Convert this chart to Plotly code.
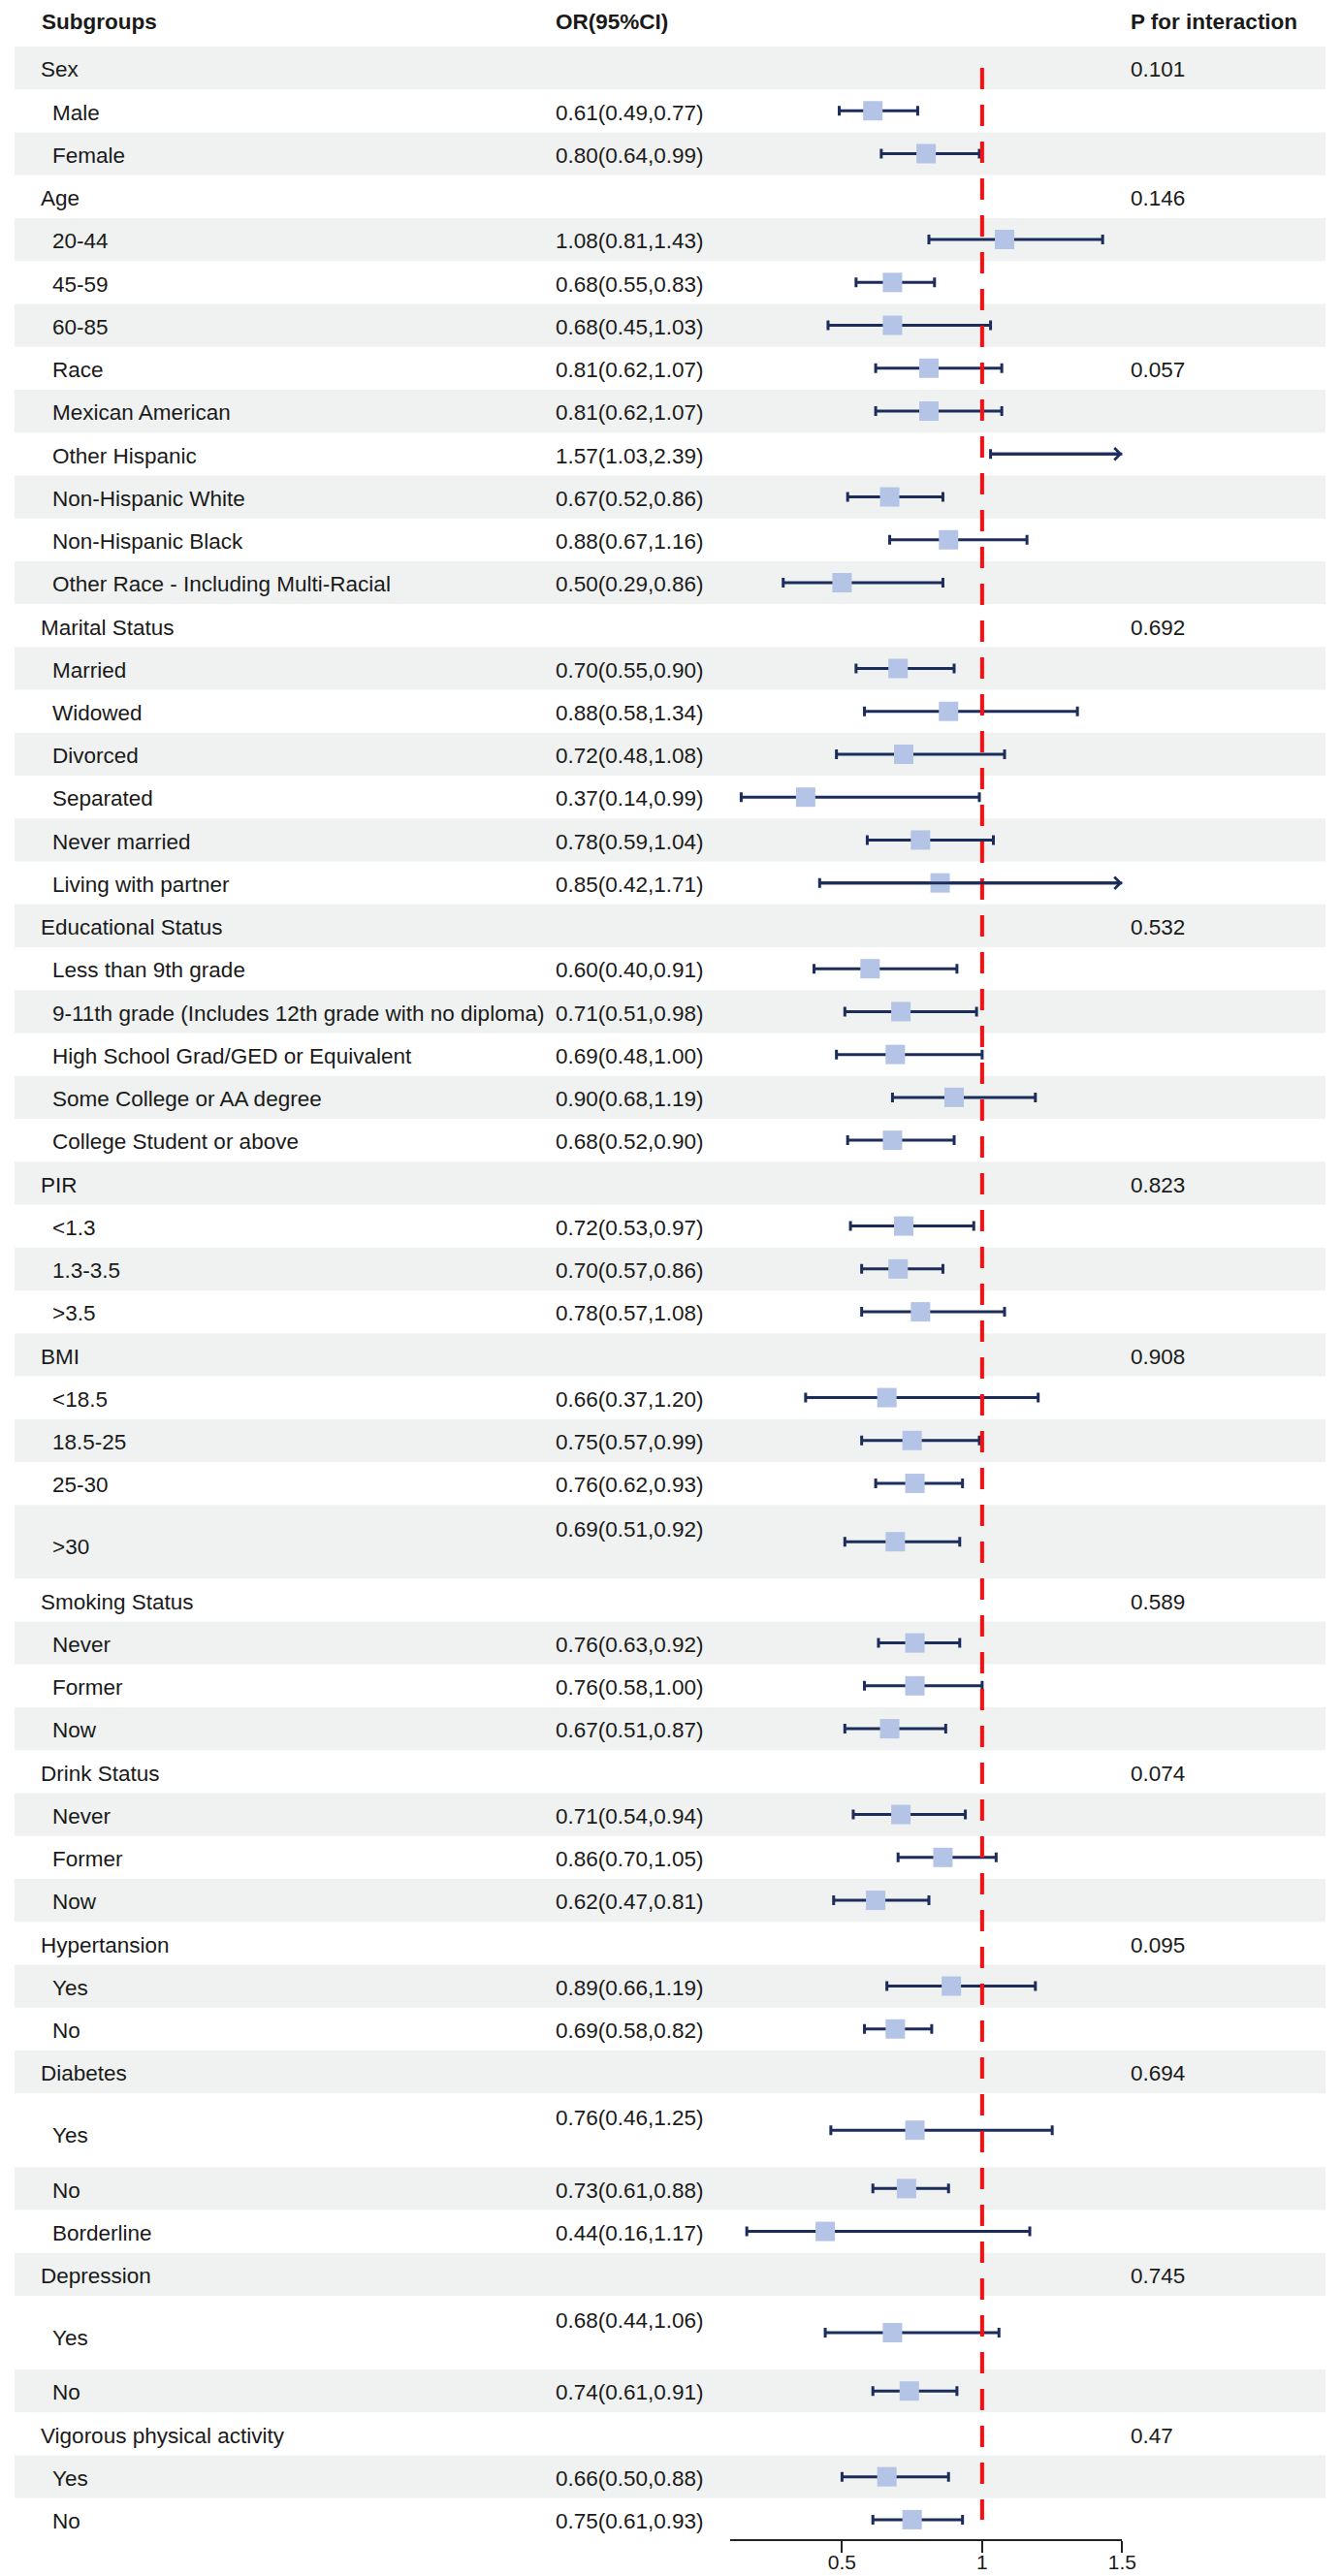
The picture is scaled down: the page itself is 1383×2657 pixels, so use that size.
import plotly.graph_objects as go

# ---------------- data ----------------
labels = [
    "Sex", "Male", "Female",
    "Age", "20-44", "45-59", "60-85",
    "Race", "Mexican American", "Other Hispanic", "Non-Hispanic White", "Non-Hispanic Black",
    "Other Race - Including Multi-Racial",
    "Marital Status", "Married", "Widowed", "Divorced", "Separated", "Never married", "Living with partner",
    "Educational Status", "Less than 9th grade", "9-11th grade (Includes 12th grade with no diploma)",
    "High School Grad/GED or Equivalent", "Some College or AA degree", "College Student or above",
    "PIR", "<1.3", "1.3-3.5", ">3.5",
    "BMI", "<18.5", "18.5-25", "25-30", ">30",
    "Smoking Status", "Never", "Former", "Now",
    "Drink Status", "Never", "Former", "Now",
    "Hypertansion", "Yes", "No",
    "Diabetes", "Yes", "No", "Borderline",
    "Depression", "Yes", "No",
    "Vigorous physical activity", "Yes", "No",
]
# 1 = group heading (no estimate), 0 = subgroup
is_group = [
    1, 0, 0,
    1, 0, 0, 0,
    0, 0, 0, 0, 0, 0,
    1, 0, 0, 0, 0, 0, 0,
    1, 0, 0, 0, 0, 0,
    1, 0, 0, 0,
    1, 0, 0, 0, 0,
    1, 0, 0, 0,
    1, 0, 0, 0,
    1, 0, 0,
    1, 0, 0, 0,
    1, 0, 0,
    1, 0, 0,
]
estimate = [
    None, 0.61, 0.80,
    None, 1.08, 0.68, 0.68,
    0.81, 0.81, 1.57, 0.67, 0.88, 0.50,
    None, 0.70, 0.88, 0.72, 0.37, 0.78, 0.85,
    None, 0.60, 0.71, 0.69, 0.90, 0.68,
    None, 0.72, 0.70, 0.78,
    None, 0.66, 0.75, 0.76, 0.69,
    None, 0.76, 0.76, 0.67,
    None, 0.71, 0.86, 0.62,
    None, 0.89, 0.69,
    None, 0.76, 0.73, 0.44,
    None, 0.68, 0.74,
    None, 0.66, 0.75,
]
lower = [
    None, 0.49, 0.64,
    None, 0.81, 0.55, 0.45,
    0.62, 0.62, 1.03, 0.52, 0.67, 0.29,
    None, 0.55, 0.58, 0.48, 0.14, 0.59, 0.42,
    None, 0.40, 0.51, 0.48, 0.68, 0.52,
    None, 0.53, 0.57, 0.57,
    None, 0.37, 0.57, 0.62, 0.51,
    None, 0.63, 0.58, 0.51,
    None, 0.54, 0.70, 0.47,
    None, 0.66, 0.58,
    None, 0.46, 0.61, 0.16,
    None, 0.44, 0.61,
    None, 0.50, 0.61,
]
upper = [
    None, 0.77, 0.99,
    None, 1.43, 0.83, 1.03,
    1.07, 1.07, 2.39, 0.86, 1.16, 0.86,
    None, 0.90, 1.34, 1.08, 0.99, 1.04, 1.71,
    None, 0.91, 0.98, 1.00, 1.19, 0.90,
    None, 0.97, 0.86, 1.08,
    None, 1.20, 0.99, 0.93, 0.92,
    None, 0.92, 1.00, 0.87,
    None, 0.94, 1.05, 0.81,
    None, 1.19, 0.82,
    None, 1.25, 0.88, 1.17,
    None, 1.06, 0.91,
    None, 0.88, 0.93,
]
p_interaction = [
    "0.101", "", "",
    "0.146", "", "", "",
    "0.057", "", "", "", "", "",
    "0.692", "", "", "", "", "", "",
    "0.532", "", "", "", "", "",
    "0.823", "", "", "",
    "0.908", "", "", "", "",
    "0.589", "", "", "",
    "0.074", "", "", "",
    "0.095", "", "",
    "0.694", "", "", "",
    "0.745", "", "",
    "0.47", "", "",
]
# rows drawn taller in the original table
tall_rows = [34, 47, 51]
x_ticks = [0.5, 1, 1.5]
x_tick_labels = ["0.5", "1", "1.5"]
headers = ["Subgroups", "OR(95%CI)", "P for interaction"]

# ---------------- layout constants ----------------
W, H = 1383, 2657
ROW_PX = 44.24
TOP_PX = 40.0
TALL = 1.72
XMIN, XMAX = 0.1, 1.5
FONT = "Liberation Sans, Arial, sans-serif"
FS = 22.5
NAVY = "#1c2d5c"
BOX = "#b4c4e6"
BAND = "#eff2f1"
TXT = "#1a1a1a"

n = len(labels)
heights = [TALL if i in tall_rows else 1.0 for i in range(n)]
tops = []
acc = 0.0
for hgt in heights:
    tops.append(acc)
    acc += hgt
centers = [t + hh / 2 for t, hh in zip(tops, heights)]

fig = go.Figure()

# alternating bands
shapes = []
for i in range(n):
    if i % 2 == 0:
        shapes.append(dict(type="rect", xref="paper", yref="y",
                           x0=7 / W, x1=1374 / W, y0=tops[i], y1=tops[i] + heights[i],
                           fillcolor=BAND, line=dict(width=0), layer="below"))

# CI + boxes
idx = [i for i in range(n) if estimate[i] is not None]
fig.add_trace(go.Scatter(
    x=[estimate[i] for i in idx],
    y=[centers[i] for i in idx],
    mode="markers",
    marker=dict(symbol="square", size=20, color=BOX, line=dict(width=0)),
    error_x=dict(type="data", symmetric=False,
                 array=[upper[i] - estimate[i] for i in idx],
                 arrayminus=[estimate[i] - lower[i] for i in idx],
                 color=NAVY, thickness=3, width=5),
    hoverinfo="skip", showlegend=False, cliponaxis=True,
))

# reference line at OR = 1
fig.add_trace(go.Scatter(
    x=[1, 1], y=[centers[0], centers[-1]], mode="lines",
    line=dict(color="#ff0d0d", width=4, dash="22px,16px"),
    hoverinfo="skip", showlegend=False,
))

annotations = []
# header
hdr_y = (14.5 - TOP_PX) / ROW_PX
for txt, xp in zip(headers, [33, 569, 1169]):
    annotations.append(dict(text="<b>%s</b>" % txt, x=xp / W, xref="paper", y=hdr_y, yref="y",
                            xanchor="left", yanchor="middle", showarrow=False,
                            font=dict(family=FONT, size=FS, color=TXT)))
for i in range(n):
    tall = i in tall_rows
    ly = centers[i] + 0.04 + (0.08 if tall else 0)
    annotations.append(dict(text=labels[i], x=(32 if is_group[i] else 44) / W, xref="paper",
                            y=ly, yref="y", xanchor="left", yanchor="middle", showarrow=False,
                            font=dict(family=FONT, size=FS, color=TXT)))
    if estimate[i] is not None:
        oy = (tops[i] + 0.58) if tall else centers[i] + 0.04
        annotations.append(dict(text="%.2f(%.2f,%.2f)" % (estimate[i], lower[i], upper[i]),
                                x=569 / W, xref="paper", y=oy, yref="y",
                                xanchor="left", yanchor="middle", showarrow=False,
                                font=dict(family=FONT, size=FS, color=TXT)))
    if p_interaction[i]:
        annotations.append(dict(text=p_interaction[i], x=1169 / W, xref="paper",
                                y=centers[i] + 0.04, yref="y", xanchor="left", yanchor="middle",
                                showarrow=False, font=dict(family=FONT, size=FS, color=TXT)))
    # arrow for intervals exceeding the axis
    if upper[i] is not None and upper[i] > XMAX:
        annotations.append(dict(text="", x=XMAX, y=centers[i], xref="x", yref="y",
                                ax=lower[i], ay=centers[i], axref="x", ayref="y",
                                showarrow=True, arrowhead=4, arrowsize=0.8, arrowwidth=3,
                                arrowcolor=NAVY, standoff=0, startstandoff=0))

fig.update_layout(
    width=W, height=H,
    margin=dict(l=0, r=0, t=0, b=0),
    paper_bgcolor="white", plot_bgcolor="rgba(0,0,0,0)",
    shapes=shapes, annotations=annotations,
    xaxis=dict(domain=[753 / W, 1162 / W], range=[XMIN, XMAX], anchor="free",
               position=(H - 2612) / H, showline=True, linecolor="#222222", linewidth=2,
               ticks="outside", ticklen=12, tickwidth=2, tickcolor="#222222",
               ticklabelstandoff=-8,
               tickvals=x_ticks, ticktext=x_tick_labels, showgrid=False, zeroline=False,
               tickfont=dict(family=FONT, size=21, color=TXT)),
    yaxis=dict(domain=[0, 1], range=[(H - TOP_PX) / ROW_PX, -TOP_PX / ROW_PX],
               visible=False, showgrid=False, zeroline=False),
)

fig.write_html("out.html")
